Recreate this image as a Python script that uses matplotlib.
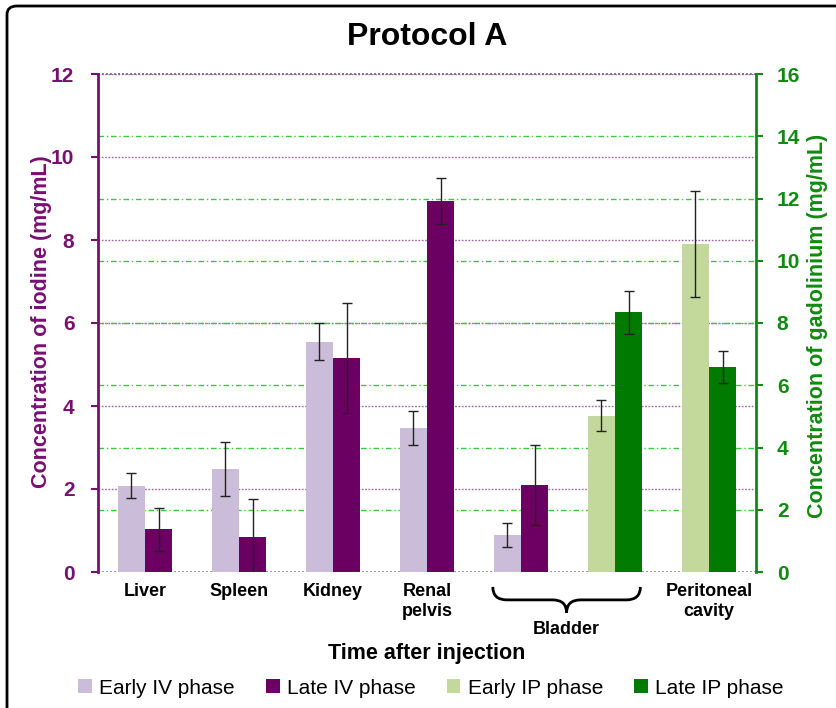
import matplotlib
matplotlib.use("Agg")
import matplotlib.pyplot as plt
import numpy as np
from matplotlib.path import Path
from matplotlib.patches import PathPatch, Patch, FancyBboxPatch
import matplotlib.transforms as mtransforms

plt.rcParams['font.family'] = ['Liberation Sans', 'DejaVu Sans']

# ---------------- data ----------------
categories = ['Liver', 'Spleen', 'Kidney', 'Renal\npelvis', '', '', 'Peritoneal\ncavity']
iv_positions = [0, 1, 2, 3, 4]
early_iv = [2.08, 2.48, 5.55, 3.48, 0.89]
early_iv_err = [0.30, 0.65, 0.44, 0.41, 0.29]
late_iv = [1.03, 0.84, 5.16, 8.94, 2.10]
late_iv_err = [0.52, 0.92, 1.32, 0.55, 0.96]
ip_positions = [5, 6]
early_ip = [5.02, 10.53]
early_ip_err = [0.50, 1.70]
late_ip = [8.34, 6.59]
late_ip_err = [0.69, 0.51]
left_ticks = [0, 2, 4, 6, 8, 10, 12]
right_ticks = [0, 2, 4, 6, 8, 10, 12, 14, 16]
series_names = ['Early IV phase', 'Late IV phase', 'Early IP phase', 'Late IP phase']

# ---------------- style ----------------
c_light_purple = '#CBBCD9'
c_dark_purple = '#6B0062'
c_light_green = '#C3D89B'
c_dark_green = '#007A00'
c_axis_purple = '#7A0F73'
c_axis_green = '#108A10'

fig = plt.figure(figsize=(8.36, 7.08), dpi=100)
ax = fig.add_axes([98/836, 1-572/708, (756-98)/836, (572-74)/708])
ax2 = ax.twinx()

LMAX, RMAX = 12, 16
ax.set_ylim(0, LMAX)
ax2.set_ylim(0, RMAX)
ax.set_xlim(-0.5, 6.5)

# grid lines drawn on lower axes (behind all bars)
for t in left_ticks[1:]:
    ax.axhline(t, color='#A064A0', lw=1.0, ls=(0, (1.2, 1.2)), zorder=0.5)
for t in right_ticks[1:-1]:
    ax.axhline(t * LMAX / RMAX, color='#3CC83C', lw=1.0, ls=(0, (4, 2, 1, 2)), zorder=0.5)
ax.axhline(0, color='#888888', lw=1.2, ls=(0, (1.2, 1.2)), zorder=0.5)
ax.axhline(LMAX, color='#776677', lw=1.2, ls=(0, (1.2, 1.2)), zorder=0.5, clip_on=False)

w = 0.29
ekw = dict(ecolor='#222222', elinewidth=1.0, capsize=3.5, capthick=1.0)
ax.bar(np.array(iv_positions) - w/2, early_iv, w, yerr=early_iv_err, color=c_light_purple,
       error_kw=ekw, zorder=2)
ax.bar(np.array(iv_positions) + w/2, late_iv, w, yerr=late_iv_err, color=c_dark_purple,
       error_kw=ekw, zorder=2)
ax2.bar(np.array(ip_positions) - w/2, early_ip, w, yerr=early_ip_err, color=c_light_green,
        error_kw=ekw, zorder=2)
ax2.bar(np.array(ip_positions) + w/2, late_ip, w, yerr=late_ip_err, color=c_dark_green,
        error_kw=ekw, zorder=2)

# spines
for a in (ax, ax2):
    a.spines['top'].set_visible(False)
    a.spines['bottom'].set_visible(False)
ax.spines['right'].set_visible(False)
ax2.spines['left'].set_visible(False)
ax.spines['left'].set_color(c_axis_purple)
ax.spines['left'].set_linewidth(2.0)
ax2.spines['right'].set_color(c_axis_green)
ax2.spines['right'].set_linewidth(2.0)

ax.set_yticks(left_ticks)
ax.set_yticklabels([str(t) for t in left_ticks], fontsize=15, fontweight='bold')
ax2.set_yticks(right_ticks)
ax2.set_yticklabels([str(t) for t in right_ticks], fontsize=15, fontweight='bold')
ax.tick_params(axis='y', colors=c_axis_purple, length=5, width=1.5, direction='out', pad=12)
ax2.tick_params(axis='y', colors=c_axis_green, length=5, width=1.5, direction='out', pad=10)

ax.set_xticks(range(len(categories)))
ax.set_xticklabels(categories, fontsize=13, fontweight='bold', linespacing=1.25)
ax.tick_params(axis='x', length=0, pad=8)
ax2.tick_params(axis='x', length=0)
for lab in ax.get_xticklabels():
    lab.set_verticalalignment('top')

# brace for Bladder
trans = mtransforms.blended_transform_factory(ax.transData, ax.transAxes)
x0, x1 = 3.70, 5.27
xm = (x0 + x1) / 2
ye, ymid, ytip = -0.030, -0.056, -0.082
r = 0.15
verts = [(x0, ye), (x0, ymid), (x0 + r, ymid), (xm - r, ymid), (xm, ymid), (xm, ytip),
         (xm, ymid), (xm + r, ymid), (x1 - r, ymid), (x1, ymid), (x1, ye)]
codes = [Path.MOVETO, Path.CURVE3, Path.CURVE3, Path.LINETO, Path.CURVE3, Path.CURVE3,
         Path.CURVE3, Path.CURVE3, Path.LINETO, Path.CURVE3, Path.CURVE3]
brace = PathPatch(Path(verts, codes), transform=trans, fill=False, lw=2.0, color='black',
                  clip_on=False)
ax.add_patch(brace)
ax.text(xm, -0.115, 'Bladder', transform=trans, ha='center', va='center', fontsize=13,
        fontweight='bold')

# texts
fig.text(427/836, 1-37/708, 'Protocol A', ha='center', va='center', fontsize=23,
         fontweight='bold')
fig.text(427/836, 1-653/708, 'Time after injection', ha='center', va='center', fontsize=15.5,
         fontweight='bold')
fig.text(42/836, 1-322/708, 'Concentration of iodine (mg/mL)', ha='center', va='center',
         rotation=90, fontsize=15.5, fontweight='bold', color=c_axis_purple)
fig.text(817/836, 1-326/708, 'Concentration of gadolinium (mg/mL)', ha='center', va='center',
         rotation=90, fontsize=15.5, fontweight='bold', color=c_axis_green)

handles = [Patch(facecolor=c, edgecolor='none') for c in
           (c_light_purple, c_dark_purple, c_light_green, c_dark_green)]
fig.legend(handles, series_names, loc='center', bbox_to_anchor=(431/836, 1-688/708), ncol=4,
           frameon=False, fontsize=15, handlelength=0.65, handleheight=0.65,
           handletextpad=0.35, columnspacing=1.5)

# outer border
border = FancyBboxPatch((7/836, -0.05), 1.1, 1 - 6/708 + 0.05, transform=fig.transFigure,
                        boxstyle='round,pad=0,rounding_size=0.012', fill=False,
                        edgecolor='black', lw=2.0)
fig.patches.append(border)

fig.savefig('out.png', dpi=100)
